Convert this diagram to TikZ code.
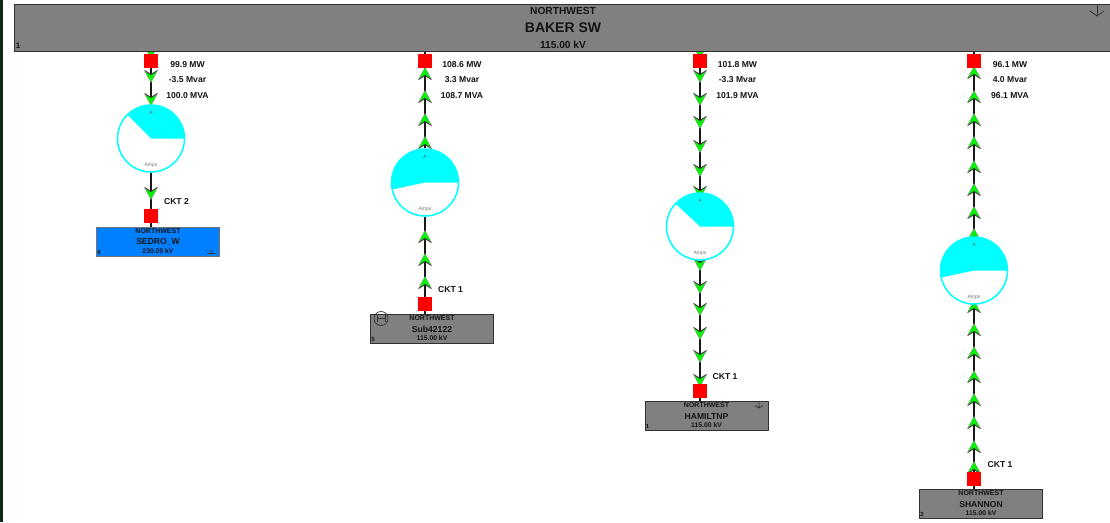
\documentclass[tikz,border=0pt]{standalone}
\usepackage{fontspec}
\setmainfont{Liberation Sans}
\definecolor{flowgreen}{RGB}{0,245,0}
\definecolor{busgray}{RGB}{128,128,128}
\definecolor{busblue}{RGB}{0,128,255}
\definecolor{edgegray}{RGB}{50,50,50}
\definecolor{bgdark}{RGB}{12,40,22}
\definecolor{metercyan}{RGB}{0,255,255}
\newcommand{\lbl}[1]{\fontsize{#1}{#1}\selectfont\bfseries}
\pgfdeclarelayer{lines}
\pgfdeclarelayer{flows}
\pgfsetlayers{lines,flows,main}

\begin{document}
\begin{tikzpicture}[x=1pt, y=1pt,
    busbox/.style = {draw=edgegray, line width=1pt, fill=busgray, inner sep=0pt, minimum width=123pt, minimum height=29pt},
    breaker/.style = {fill=red, inner sep=0pt, minimum size=14pt},
    meter/.style = {circle, draw=metercyan, line width=1.5pt, fill=white, inner sep=0pt, minimum size=67pt},
    line/.style = {black!90, line width=1.5pt},
    txt/.style = {inner sep=0pt, text=black!92},
    flow/.pic = {
      \fill[flowgreen] (0,6.5) -- (6,-4.5) -- (0,-1.5) -- (-6,-4.5) -- cycle;
      \draw[black!75, line width=1pt] (-6.5,-5.5) -- (0,-1.5) -- (6.5,-5.5);
      \draw[black!45, line width=.4pt] (0,6.5) -- (6,-4.5) (0,6.5) -- (-6,-4.5);
    }]
  \useasboundingbox (0,-522) rectangle (1110,0);
  \fill[bgdark] (0,-522) rectangle (3,0);

  % flow arrows, under the nodes
  \begin{pgfonlayer}{flows}
  \foreach \y in {52,76,99,193} \pic[rotate=180] at (151,-\y) {flow};
  \foreach \y in {74,97,120,143,237,260,283} \pic at (425,-\y) {flow};
  \foreach \y in {52,76,99,122,146,170,192,264,287,309,333,356,380} \pic[rotate=180] at (700,-\y) {flow};
  \foreach \y in {73,97,120,143,167,190,213,235,307,330,353,377,400,423,447,468} \pic at (974,-\y) {flow};
  \end{pgfonlayer}

  % top bus
  \fill[busgray] (14,-51) rectangle (1110,-4);
  \draw[edgegray, line width=1pt] (1110,-51) -- (14,-51) -- (14,-4) -- (1110,-4);
  \coordinate (bus) at (562,-51);
  \node[txt] (busarea) at (563,-11) {\lbl{10.2}NORTHWEST};
  \node[txt] (busname) at (563,-27.5) {\lbl{14}BAKER SW};
  \node[txt] (buskv) at (563,-44.5) {\lbl{10.2}115.00 kV};
  \node[txt] (busnum) at (18,-45.5) {\lbl{8}1};
  \draw[edgegray, line width=.7pt] (1097,-4) -- (1097,-16);
  \draw[edgegray, line width=.7pt] (1090,-11) -- (1097,-16) -- (1104,-11);

  % breakers
  \node[breaker] (brkA) at (151,-61) {};
  \node[breaker] (brkB) at (425,-61) {};
  \node[breaker] (brkC) at (700,-61) {};
  \node[breaker] (brkD) at (974,-61) {};
  \node[breaker] (brkE) at (151,-216) {};
  \node[breaker] (brkF) at (425,-304) {};
  \node[breaker] (brkG) at (700,-391) {};
  \node[breaker] (brkH) at (974,-479) {};

  % meters
  \node[meter] (mtrA) at (151,-138.5) {};
  \node[meter] (mtrB) at (425,-182.5) {};
  \node[meter] (mtrC) at (700,-226.5) {};
  \node[meter] (mtrD) at (974,-270.5) {};
  \fill[metercyan] (mtrA.center) -- ++(0:33.5) arc[start angle=0, end angle=135, radius=33.5] -- cycle;
  \fill[metercyan] (mtrB.center) -- ++(0:33.5) arc[start angle=0, end angle=192, radius=33.5] -- cycle;
  \fill[metercyan] (mtrC.center) -- ++(0:33.5) arc[start angle=0, end angle=137, radius=33.5] -- cycle;
  \fill[metercyan] (mtrD.center) -- ++(0:33.5) arc[start angle=0, end angle=192, radius=33.5] -- cycle;
  \foreach \m in {mtrA,mtrB,mtrC,mtrD} {
    \node[txt, text=black!60] (\m top) at ([yshift=26pt]\m.center) {\fontsize{5}{5}\selectfont A};
    \node[txt, text=black!55] (\m low) at ([yshift=-27pt]\m.center) {\fontsize{5}{5}\selectfont Amps};
  }

  % substations
  \node[busbox, fill=busblue, draw=black!55] (subA) at (158,-241.5) {};
  \node[busbox] (subB) at (432,-329) {};
  \node[busbox] (subC) at (706.5,-416) {};
  \node[busbox] (subD) at (981,-504) {};
  \foreach \s/\n/\k/\i in {subA/SEDRO\_W/230.00/4, subB/Sub42122/115.00/5, subC/HAMILTNP/115.00/1, subD/SHANNON/115.00/2} {
    \node[txt] (\s area) at ([yshift=10.5pt]\s.center) {\lbl{7}NORTHWEST};
    \node[txt] (\s name) at ([yshift=-.5pt]\s.center) {\lbl{8.6}\n};
    \node[txt] (\s kv) at ([yshift=-9.5pt]\s.center) {\lbl{6.8}\k{} kV};
    \node[txt] (\s num) at ([xshift=-59pt, yshift=-10.5pt]\s.center) {\lbl{6}\i};
  }

  % symbols on the substations
  \draw[edgegray, line width=.7pt] (207,-253) -- (215,-253) (211,-253) -- (211,-250);
  \draw[edgegray, line width=.7pt] (381,-318.5) circle (7);
  \draw[edgegray, line width=.7pt] (377,-315) -- (377,-322) (385,-315) -- (385,-322) (377,-318.5) -- (385,-318.5);
  \draw[edgegray, line width=.7pt] (759,-402) -- (759,-408) (755,-405.5) -- (759,-408) -- (763,-405.5);

  % connectors
  \begin{pgfonlayer}{lines}
  \draw[line] (bus -| brkA) -- (brkA);
  \draw[line] (bus -| brkB) -- (brkB);
  \draw[line] (bus -| brkC) -- (brkC);
  \draw[line] (bus -| brkD) -- (brkD);
  \draw[line] (brkA) -- (mtrA);
  \draw[line] (brkB) -- (mtrB);
  \draw[line] (brkC) -- (mtrC);
  \draw[line] (brkD) -- (mtrD);
  \draw[line] (mtrA) -- (brkE);
  \draw[line] (mtrB) -- (brkF);
  \draw[line] (mtrC) -- (brkG);
  \draw[line] (mtrD) -- (brkH);
  \draw[line] (brkE) -- (brkE |- subA.north);
  \draw[line] (brkF) -- (brkF |- subB.north);
  \draw[line] (brkG) -- (brkG |- subC.north);
  \draw[line] (brkH) -- (brkH |- subD.north);
  \end{pgfonlayer}

  % flows and circuit labels
  \foreach \c/\x/\p/\q/\r in {A/187.5/99.9 MW/-3.5 Mvar/100.0 MVA, B/462/108.6 MW/3.3 Mvar/108.7 MVA,
      C/737.5/101.8 MW/-3.3 Mvar/101.9 MVA, D/1010/96.1 MW/4.0 Mvar/96.1 MVA} {
    \node[txt] (mw\c) at (\x,-64.5) {\lbl{8.6}\p};
    \node[txt] (mvar\c) at (\x,-79.5) {\lbl{8.6}\q};
    \node[txt] (mva\c) at (\x,-95.5) {\lbl{8.6}\r};
  }
  \node[txt] (cktA) at (176.5,-201.5) {\lbl{8.6}CKT 2};
  \node[txt] (cktB) at (450.5,-289.5) {\lbl{8.6}CKT 1};
  \node[txt] (cktC) at (725,-376.5) {\lbl{8.6}CKT 1};
  \node[txt] (cktD) at (1000,-464.5) {\lbl{8.6}CKT 1};
\end{tikzpicture}
\end{document}
